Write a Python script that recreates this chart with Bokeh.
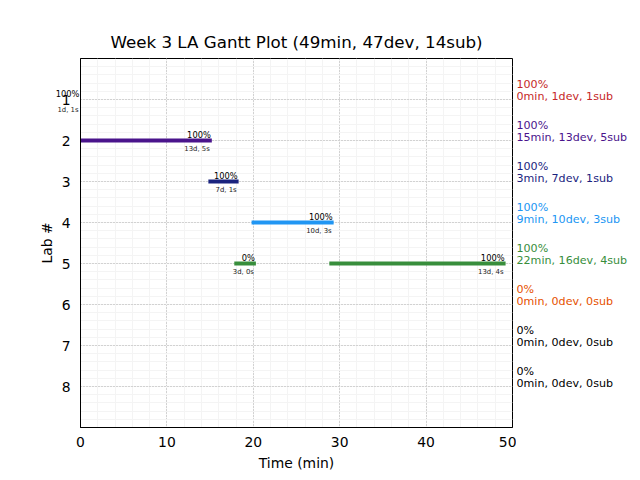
from bokeh.plotting import figure
from bokeh.models import Range1d, FixedTicker, Label, ColumnDataSource
from bokeh.layouts import row
from bokeh.core.properties import value
from bokeh.embed import file_html
from bokeh.resources import INLINE

# ---- data ----
labs = [1, 2, 3, 4, 5, 6, 7, 8]
lab_colors = ["#c62828", "#4a148c", "#1a237e", "#2196f3", "#388e3c", "#e65100", "#000000", "#000000"]
lab_pct = ["100%", "100%", "100%", "100%", "100%", "0%", "0%", "0%"]
lab_minutes = [0, 15, 3, 9, 22, 0, 0, 0]
lab_devs = [1, 13, 7, 10, 16, 0, 0, 0]
lab_subs = [1, 5, 1, 3, 4, 0, 0, 0]

seg_lab = [1, 2, 3, 4, 5, 5]
seg_start = [0.0, 0.0, 14.8, 19.8, 17.8, 28.8]
seg_end = [0.0, 15.2, 18.3, 29.3, 20.3, 49.2]
seg_pct = ["100%", "100%", "100%", "100%", "0%", "100%"]
seg_detail = ["1d, 1s", "13d, 5s", "7d, 1s", "10d, 3s", "3d, 0s", "13d, 4s"]

title_text = "Week 3 LA Gantt Plot (49min, 47dev, 14sub)"
x_ticks = [0, 10, 20, 30, 40, 50]
FONT = "DejaVu Sans"

p = figure(frame_width=432, frame_height=369,
           x_range=Range1d(0, 50), y_range=Range1d(9, 0),
           output_backend="svg", toolbar_location=None,
           min_border_left=80, min_border_right=4, min_border_top=58, min_border_bottom=53)

p.title.text = title_text
p.title.align = "center"
p.title.text_font = FONT
p.title.text_font_size = "16.7px"
p.title.text_font_style = "normal"
p.title.text_color = "black"
p.title.standoff = -2

p.outline_line_color = "black"
p.outline_line_alpha = 1.0
p.background_fill_color = "white"
p.border_fill_color = "white"

p.xaxis.ticker = FixedTicker(ticks=x_ticks, minor_ticks=[v * 2 for v in range(0, 26)])
p.yaxis.ticker = FixedTicker(ticks=labs, minor_ticks=[v / 5 for v in range(0, 46)])
p.xaxis.axis_label = "Time (min)"
p.yaxis.axis_label = "Lab #"
for ax in (p.xaxis, p.yaxis):
    ax.axis_label_text_font = FONT
    ax.axis_label_text_font_size = "13.9px"
    ax.axis_label_text_font_style = "normal"
    ax.axis_label_text_color = "black"
    ax.major_label_text_font = FONT
    ax.major_label_text_font_size = "13.9px"
    ax.major_label_text_color = "black"
    ax.major_tick_out = 0
    ax.major_tick_in = 0
    ax.minor_tick_out = 0
    ax.minor_tick_in = 0
    ax.axis_line_color = "black"
p.xaxis.major_label_standoff = 9
p.xaxis.axis_label_standoff = 5
p.yaxis.major_label_standoff = 10
p.yaxis.axis_label_standoff = 4

for g in (p.xgrid, p.ygrid):
    g.grid_line_color = "#b0b0b0"
    g.grid_line_dash = "1 2"
    g.grid_line_width = 1
    g.minor_grid_line_color = "#f4f4f4"
    g.minor_grid_line_width = 1

src = ColumnDataSource(dict(
    x0=seg_start, x1=seg_end, y=seg_lab,
    color=[lab_colors[l - 1] for l in seg_lab],
))
p.segment(x0="x0", y0="y", x1="x1", y1="y", source=src, line_width=4, line_color="color")

for x1, y, pct, det in zip(seg_end, seg_lab, seg_pct, seg_detail):
    edge = x1 <= 0
    lab_a = Label(x=x1, y=y, x_offset=-1, y_offset=6, text=pct, text_align="right",
                  text_baseline="alphabetic", text_font=FONT, text_font_size="8.3px",
                  text_color="black")
    lab_b = Label(x=x1, y=y, x_offset=-2, y_offset=-10 if edge else -8, text=det,
                  text_align="right", text_baseline="alphabetic", text_font=FONT,
                  text_font_size="6.9px", text_color="#222222")
    if edge:
        # labels at the left edge overhang the frame; host them in side panels
        p.add_layout(lab_a, "left")
        p.add_layout(lab_b, "above")
    else:
        p.add_layout(lab_a, "center")
        p.add_layout(lab_b, "center")

# ---- right-hand summary column ----
q = figure(frame_width=124, frame_height=369,
           x_range=Range1d(0, 1), y_range=p.y_range,
           output_backend="svg", toolbar_location=None,
           x_axis_location=None, y_axis_location=None,
           min_border_left=0, min_border_right=0, min_border_top=58, min_border_bottom=53)
q.outline_line_color = None
q.xgrid.visible = False
q.ygrid.visible = False
q.background_fill_color = "white"
q.border_fill_color = "white"

rsrc = ColumnDataSource(dict(
    x=[0.0] * len(labs), y=labs, color=lab_colors, pct=lab_pct,
    info=[f"{m}min, {d}dev, {s}sub" for m, d, s in zip(lab_minutes, lab_devs, lab_subs)],
))
q.text(x="x", y="y", text="pct", source=rsrc, text_color="color", y_offset=-15,
       text_align="left", text_baseline="alphabetic", text_font=value(FONT),
       text_font_size="11.1px")
q.text(x="x", y="y", text="info", source=rsrc, text_color="color", y_offset=-3,
       text_align="left", text_baseline="alphabetic", text_font=value(FONT),
       text_font_size="11.1px")

layout = row(p, q)
open("out.html", "w").write(file_html(layout, INLINE))
